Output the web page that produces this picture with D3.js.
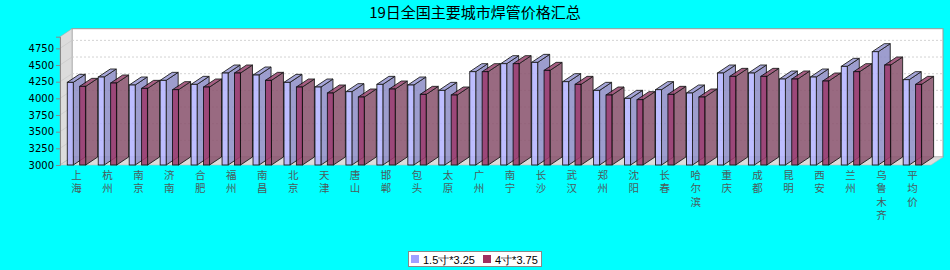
<!DOCTYPE html>
<html>
<head>
<meta charset="utf-8">
<script src="https://cdn.jsdelivr.net/npm/d3@7"></script>
<style>
  body { margin: 0; background: #00ffff; }
  svg { display: block; }
</style>
</head>
<body>
<svg id="chart" width="950" height="270"></svg>
<script>
// chart data
var categories = ["上海", "杭州", "南京", "济南", "合肥", "福州", "南昌", "北京", "天津", "唐山",
  "邯郸", "包头", "太原", "广州", "南宁", "长沙", "武汉", "郑州", "沈阳", "长春",
  "哈尔滨", "重庆", "成都", "昆明", "西安", "兰州", "乌鲁木齐", "平均价"];
var seriesNames = ["1.5寸*3.25", "4寸*3.75"];
var series1 = [4240, 4320, 4200, 4270, 4210, 4380, 4350, 4240, 4170, 4100,
  4210, 4200, 4120, 4400, 4520, 4540, 4250, 4120, 4000, 4130,
  4080, 4380, 4380, 4290, 4320, 4480, 4700, 4280];
var series2 = [4180, 4230, 4150, 4130, 4170, 4380, 4270, 4170, 4080, 4020,
  4140, 4060, 4050, 4400, 4520, 4420, 4210, 4050, 3980, 4060,
  4020, 4330, 4330, 4290, 4260, 4400, 4500, 4210];
var yTicks = [3000, 3250, 3500, 3750, 4000, 4250, 4500, 4750];
var title = "19日全国主要城市焊管价格汇总";

var svg = d3.select("#chart");

// 3d depth offsets
var dx = 12, dy = 8;
var left = 60, right = 931, bottom = 165;

var y = d3.scaleLinear().domain([3000, 4925]).range([bottom, 36.7]);
var x = d3.scaleBand().domain(categories).range([61, 61 + 28 * 30.96]).padding(0);
var xs = d3.scaleBand().domain([0, 1]).range([-9.2, 9.2]).paddingInner(0.516);

var yTop = y(y.domain()[1]);

// title
svg.append("text")
  .attr("x", 475).attr("y", 18)
  .attr("text-anchor", "middle")
  .style("font-family", "'Noto Sans CJK SC', sans-serif")
  .style("font-size", "15px")
  .attr("fill", "#000")
  .text(title);

// back wall
svg.append("rect")
  .attr("x", left + dx).attr("y", yTop - dy)
  .attr("width", right - left).attr("height", bottom - yTop)
  .attr("fill", "#fff").attr("stroke", "#999").attr("stroke-width", 1);

// left wall
svg.append("path")
  .attr("d", "M" + left + "," + yTop + "L" + (left + dx) + "," + (yTop - dy) +
    "L" + (left + dx) + "," + (bottom - dy) + "L" + left + "," + bottom + "Z")
  .attr("fill", "#dcdcdc").attr("stroke", "#aaa").attr("stroke-width", 0.6);

// floor
svg.append("path")
  .attr("d", "M" + left + "," + bottom + "L" + (left + dx) + "," + (bottom - dy) +
    "L" + (right + dx) + "," + (bottom - dy) + "L" + right + "," + bottom + "Z")
  .attr("fill", "#dcdcdc").attr("stroke", "#bbb").attr("stroke-width", 0.6);

// gridlines on the back wall and the left wall
var grid = svg.append("g");
yTicks.filter(function (d) { return d > 3000; }).forEach(function (v) {
  grid.append("line")
    .attr("x1", left + dx).attr("x2", right + dx)
    .attr("y1", y(v) - dy).attr("y2", y(v) - dy)
    .attr("stroke", "#c8c8c8").attr("stroke-dasharray", "2,2").attr("stroke-width", 0.8);
  grid.append("line")
    .attr("x1", left).attr("x2", left + dx)
    .attr("y1", y(v)).attr("y2", y(v) - dy)
    .attr("stroke", "#c4c4c4").attr("stroke-width", 0.6);
});

// y axis
var yAxis = d3.axisLeft(y).tickValues(yTicks).tickFormat(d3.format("d")).tickSize(4).tickPadding(2);
var ga = svg.append("g").attr("transform", "translate(" + left + ",0)").call(yAxis);
ga.select(".domain").attr("stroke", "#888");
ga.selectAll(".tick line").attr("stroke", "#888");
ga.selectAll(".tick text")
  .style("font-family", "'DejaVu Sans', sans-serif")
  .style("font-size", "10px")
  .attr("fill", "#000");

// bars
var styles = [
  { front: "#b4b4ff", side: "#9090c8", top: "#9a9ad4" },
  { front: "#9c3c6e", side: "#8c5670", top: "#9a4a72" }
];
var rows = [];
categories.forEach(function (c, i) {
  [series1[i], series2[i]].forEach(function (v, s) {
    rows.push({ cat: c, s: s, v: v });
  });
});

var bars = svg.append("g").selectAll("g").data(rows).enter().append("g")
  .attr("opacity", 0.88);

bars.each(function (d) {
  var g = d3.select(this);
  var x0 = x(d.cat) + x.bandwidth() / 2 + xs(d.s);
  var w = xs.bandwidth();
  var y0 = y(d.v), y1 = y(3000);
  var st = styles[d.s];
  g.append("path") // side
    .attr("d", "M" + (x0 + w) + "," + y0 + "L" + (x0 + w + dx) + "," + (y0 - dy) +
      "L" + (x0 + w + dx) + "," + (y1 - dy) + "L" + (x0 + w) + "," + y1 + "Z")
    .attr("fill", st.side).attr("stroke", "#000").attr("stroke-width", 0.9);
  g.append("path") // top
    .attr("d", "M" + x0 + "," + y0 + "L" + (x0 + dx) + "," + (y0 - dy) +
      "L" + (x0 + w + dx) + "," + (y0 - dy) + "L" + (x0 + w) + "," + y0 + "Z")
    .attr("fill", st.top).attr("stroke", "#000").attr("stroke-width", 0.9);
  g.append("rect") // front
    .attr("x", x0).attr("y", y0).attr("width", w).attr("height", y1 - y0)
    .attr("fill", st.front).attr("stroke", "#000").attr("stroke-width", 0.9);
});

// category labels, one character per line
var labels = svg.append("g").selectAll("text").data(categories).enter().append("text")
  .attr("text-anchor", "middle")
  .style("font-family", "'Noto Sans CJK SC', sans-serif")
  .style("font-size", "10.5px")
  .attr("fill", "#4a5c5c");
labels.each(function (c) {
  var t = d3.select(this);
  c.split("").forEach(function (ch, k) {
    t.append("tspan")
      .attr("x", x(c) + x.bandwidth() / 2)
      .attr("y", 179 + k * 13.3)
      .text(ch);
  });
});

// legend
var legend = svg.append("g");
legend.append("rect")
  .attr("x", 408.5).attr("y", 251.5).attr("width", 133).attr("height", 15)
  .attr("fill", "#fff").attr("stroke", "#888");
var legendX = [411, 483];
seriesNames.forEach(function (n, i) {
  legend.append("rect")
    .attr("x", legendX[i]).attr("y", 255).attr("width", 8).attr("height", 8)
    .attr("fill", i === 0 ? "#a0a0ff" : "#a03060");
  legend.append("text")
    .attr("x", legendX[i] + 12).attr("y", 263.5)
    .style("font-family", "'Liberation Sans', sans-serif")
    .style("font-size", "11px")
    .attr("fill", "#000")
    .text(n);
});
</script>
</body>
</html>
